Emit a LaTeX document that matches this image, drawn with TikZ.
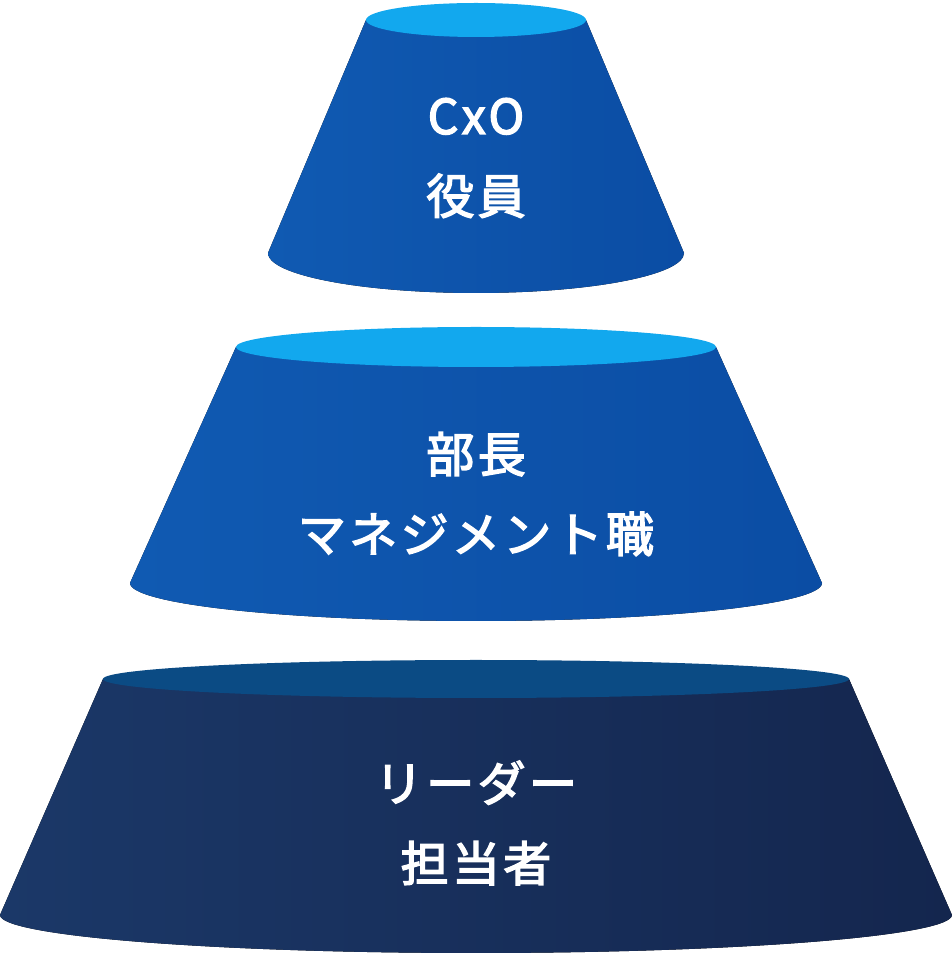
\documentclass[tikz,border=0pt]{standalone}
\usepackage{fontspec}
\newfontfamily\jpfont{Noto Sans CJK JP}[LetterSpace=7,FakeBold=3]
\definecolor{capblue}{HTML}{12A8EE}
\definecolor{bodyblueA}{HTML}{105AB2}
\definecolor{bodyblueB}{HTML}{0B4DA4}
\definecolor{capnavy}{HTML}{0B4B84}
\definecolor{bodynavyA}{HTML}{1B3868}
\definecolor{bodynavyB}{HTML}{14264E}
\begin{document}
\begin{tikzpicture}[x=1pt,y=1pt,
  tiertext/.style={text=white, align=center, font=\jpfont\fontsize{48}{80}\selectfont},
  bluebody/.style={left color=bodyblueA, right color=bodyblueB},
  navybody/.style={left color=bodynavyA, right color=bodynavyB}]
\useasboundingbox (0,0) rectangle (952,954);
\fill[bluebody] (366,934) -- (268,701) arc[start angle=180, end angle=360, x radius=208, y radius=40] -- (586,934) -- cycle;
\fill[capblue] (476,934) ellipse[x radius=110, y radius=17];
\fill[bluebody] (236,607) -- (130,371) arc[start angle=180, end angle=360, x radius=346, y radius=38] -- (716,607) -- cycle;
\fill[capblue] (476,607) ellipse[x radius=240, y radius=20];
\fill[navybody] (103,275) -- (0,39) arc[start angle=180, end angle=360, x radius=476, y radius=38] -- (849,275) -- cycle;
\fill[capnavy] (476,275) ellipse[x radius=373, y radius=19];
\node[tiertext] (cxo) at (476,796) {CxO\\役員};
\node[tiertext] (bucho) at (476,460) {部長\\マネジメント職};
\node[tiertext] (leader) at (476,131) {リーダー\\担当者};
\end{tikzpicture}
\end{document}
